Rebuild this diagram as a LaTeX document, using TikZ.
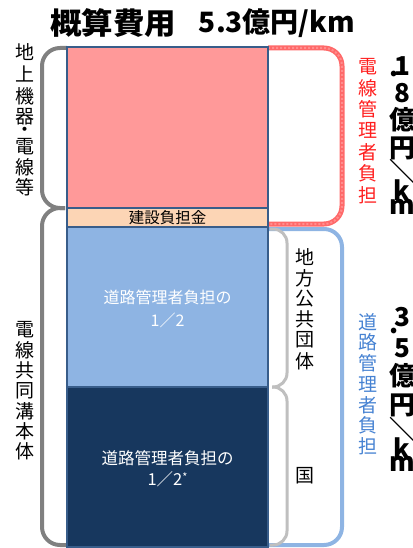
\documentclass[tikz,border=0pt]{standalone}
\usepackage{fontspec}
\setmainfont{Noto Sans CJK JP}
\definecolor{pinkbox}{RGB}{255,153,153}
\definecolor{bandbox}{RGB}{252,213,181}
\definecolor{lightbluebox}{RGB}{142,180,227}
\definecolor{navybox}{RGB}{23,55,94}
\definecolor{boxedge}{RGB}{56,93,138}
\definecolor{bracegray}{RGB}{128,128,128}
\definecolor{lightgray}{RGB}{191,191,191}
\definecolor{redbrace}{RGB}{255,105,105}
\definecolor{redtext}{RGB}{255,30,30}
\definecolor{bluetext}{RGB}{70,130,210}
\begin{document}
\begin{tikzpicture}[x=1pt,y=-1pt,
  box/.style={draw=boxedge, line width=1.5pt, minimum width=201pt, inner sep=0pt, align=center},
  gbrace/.style={draw=bracegray, line width=4pt, rounded corners=18pt},
  lbrace/.style={draw=lightgray, line width=3pt, rounded corners=14pt},
  rbrace/.style={draw=redbrace, line width=5pt, rounded corners=18pt},
  bbrace/.style={draw=lightbluebox, line width=4pt, rounded corners=18pt},
  vt/.style={inner sep=0pt, font=\fontsize{19}{19}\selectfont},
  bigt/.style={inner sep=0pt, font=\fontsize{26}{26}\selectfont\bfseries},
  intext/.style={text=white, font=\fontsize{16}{23}\selectfont}
]
\useasboundingbox (0,0) rectangle (412,548);

% brackets
\draw[gbrace] (67,48) -- (42,48) -- (42,208) -- (65,208);
\draw[gbrace] (65,208) -- (42,208) -- (42,545) -- (67,545);
\draw[rbrace] (268,48) -- (342,48) -- (342,224) -- (268,224);
\draw[draw=white, opacity=0.25, line width=2pt, dotted, rounded corners=18pt] (268,48) -- (342,48) -- (342,224) -- (268,224);
\draw[bbrace] (268,229) -- (342,229) -- (342,545) -- (268,545);
\draw[lbrace] (270,229) -- (287,229) -- (287,387) -- (272,387);
\draw[lbrace] (272,387) -- (287,387) -- (287,545) -- (270,545);

% boxes
\node[box, fill=pinkbox, minimum height=161pt] (pink) at (167.5,127.5) {};
\node[box, fill=bandbox, minimum height=19pt, font=\fontsize{15.5}{16}\selectfont] (band) at (167.5,217.5) {建設負担金};
\node[box, fill=lightbluebox, minimum height=160pt] (lblue) at (167.5,307) {};
\node[box, fill=navybox, minimum height=160pt] (navy) at (167.5,467) {};
\node[intext, align=center] (lbluetext) at (167.5,309) {道路管理者負担の\\1／2};
\node[intext, align=center, font=\fontsize{16.5}{21}\selectfont] (navytext) at (167.5,469) {道路管理者負担の\\1／2\raisebox{4pt}{\fontsize{11}{11}\selectfont *}};

% title
\node[inner sep=0pt, font=\fontsize{30}{30}\selectfont\bfseries, xscale=1.05] (title1) at (113,23) {概算費用};
\node[inner sep=0pt, font=\fontsize{28}{28}\selectfont\bfseries] (title2) at (277,23) {5.3億円/km};

% left vertical texts
\foreach \c/\yy [count=\i] in {地/52,上/74,機/96,器/117,・/132,電/147,線/167,等/187}
  \node[vt] (lt\i) at (25,\yy) {\c};
\foreach \c [count=\i] in {電,線,共,同,溝,本,体}
  \node[vt] (lb\i) at (25,{330+20.2*(\i-1)}) {\c};

% red / blue vertical texts
\foreach \c [count=\i] in {電,線,管,理,者,負,担}
  \node[vt, text=redtext] (rt\i) at (368,{67+21.3*(\i-1)}) {\c};
\foreach \c [count=\i] in {道,路,管,理,者,負,担}
  \node[vt, text=bluetext] (bt\i) at (368,{322+20.7*(\i-1)}) {\c};

% inner labels
\foreach \c [count=\i] in {地,方,公,共,団,体}
  \node[vt] (ct\i) at (305,{257+20.8*(\i-1)}) {\c};
\node[vt] (kuni) at (305,476) {国};

% big right texts
\foreach \c/\yy [count=\i] in {1/66,8/93,億/120,円/148,＼/172,k/190,m/207}
  \node[bigt] (ra\i) at (402,\yy) {\c};
\node[bigt] (radot) at (394,74) {.};
\foreach \c/\yy [count=\i] in {3/317,5/348,億/376,円/405,＼/430,k/448,m/464}
  \node[bigt] (rb\i) at (402,\yy) {\c};
\node[bigt] (rbdot) at (394,331) {.};
\end{tikzpicture}
\end{document}
